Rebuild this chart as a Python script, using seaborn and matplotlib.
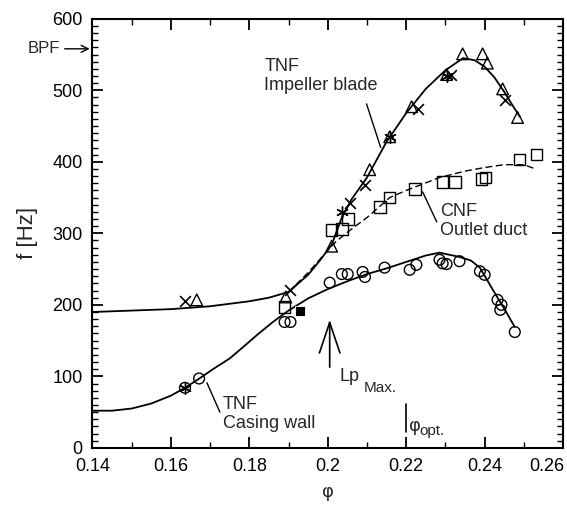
import matplotlib
matplotlib.use("Agg")
import matplotlib.pyplot as plt
import matplotlib.transforms as mtransforms
import seaborn as sns
from matplotlib.ticker import MultipleLocator

# ---------------- data ----------------
# fitted curves (knots)
imp_phi = [0.14, 0.15, 0.16, 0.17, 0.18, 0.185, 0.19, 0.195, 0.198, 0.201, 0.2036,
           0.206, 0.21, 0.215, 0.22, 0.225, 0.23, 0.2345, 0.2375, 0.24, 0.2425,
           0.245, 0.247, 0.249]
imp_f = [190, 192, 194, 198, 205, 210, 218, 242, 262, 284, 322,
         347, 378, 428, 468, 502, 528, 545, 542, 533, 518,
         498, 480, 463]

cnf_phi = [0.19, 0.195, 0.199, 0.202, 0.2056, 0.21, 0.2125, 0.2158, 0.22, 0.2285,
           0.235, 0.24, 0.245, 0.25, 0.253]
cnf_f = [218, 245, 270, 288, 304, 322, 334, 350, 360, 378,
         387, 392, 396, 396, 390]

cas_phi = [0.14, 0.145, 0.15, 0.155, 0.16, 0.1636, 0.167, 0.171, 0.175, 0.178,
           0.182, 0.186, 0.19, 0.195, 0.20, 0.205, 0.21, 0.215, 0.22, 0.225, 0.2285,
           0.2336, 0.2365, 0.2388, 0.242, 0.2456, 0.2477]
cas_f = [52, 52, 55, 62, 73, 84, 96, 111, 125, 139,
         158, 176, 192, 209, 222, 233, 243, 251, 260, 269, 273,
         267, 262, 252, 222, 189, 169]

# measured points
tri_phi = [0.1666, 0.1893, 0.201, 0.2107, 0.2158, 0.2214, 0.2303, 0.2344, 0.2395,
           0.2407, 0.2446, 0.2484]
tri_f = [207, 211, 282, 389, 435, 477, 522, 551, 551, 538, 502, 462]

x_phi = [0.1636, 0.1903, 0.2056, 0.2095, 0.2229, 0.2315, 0.2451]
x_f = [206, 221, 343, 368, 474, 521, 487]

star_phi = [0.1636, 0.2036, 0.2158, 0.2305]
star_f = [84, 330, 435, 520]

sq_phi = [0.1890, 0.2010, 0.2036, 0.2051, 0.2133, 0.2158, 0.2222, 0.2293, 0.2324,
          0.2392, 0.2402, 0.2489, 0.2532]
sq_f = [197, 305, 306, 320, 337, 350, 362, 372, 372, 376, 378, 403, 410]

sqf_phi = [0.1929]
sqf_f = [192]

circ_phi = [0.1672, 0.1636, 0.1890, 0.1905, 0.2005, 0.2036, 0.2051, 0.2089, 0.2095,
            0.2145, 0.2209, 0.2226, 0.2285, 0.2293, 0.2303, 0.2336, 0.2388, 0.2400,
            0.2433, 0.2443, 0.2440, 0.2477]
circ_f = [97, 84, 176, 176, 231, 243, 243, 246, 239,
          252, 249, 256, 263, 258, 257, 261, 247, 242,
          207, 200, 193, 162]

x_ticks = [0.14, 0.16, 0.18, 0.20, 0.22, 0.24, 0.26]
x_labels = ["0.14", "0.16", "0.18", "0.2", "0.22", "0.24", "0.26"]
y_ticks = [0, 100, 200, 300, 400, 500, 600]
y_labels = ["0", "100", "200", "300", "400", "500", "600"]
bpf_f = 558

# ---------------- style ----------------
sns.set_theme(style="ticks")
plt.rcParams["font.family"] = ["Liberation Sans", "DejaVu Sans"]
plt.rcParams["axes.linewidth"] = 1.5

fig = plt.figure(figsize=(5.67, 5.22), dpi=100)
ax = fig.add_axes([0.163, 0.142, 0.830, 0.822])

lw = 1.3
sns.lineplot(x=imp_phi, y=imp_f, color="black", lw=lw, ax=ax, sort=False)
sns.lineplot(x=cnf_phi, y=cnf_f, color="black", lw=1.0, ax=ax, sort=False,
             linestyle=(0, (5, 2.5)))
sns.lineplot(x=cas_phi, y=cas_f, color="black", lw=lw, ax=ax, sort=False)

mk = dict(facecolor="none", edgecolor="black", linewidth=1.0, ax=ax, zorder=3)
sns.scatterplot(x=tri_phi, y=tri_f, marker="^", s=70, **mk)
sns.scatterplot(x=sq_phi, y=sq_f, marker="s", s=70, **mk)
sns.scatterplot(x=circ_phi, y=circ_f, marker="o", s=60, **mk)
sns.scatterplot(x=sqf_phi, y=sqf_f, marker="s", s=60, color="black", ax=ax, zorder=3)
sns.scatterplot(x=x_phi, y=x_f, marker="x", s=60, color="black", linewidth=1.2,
                ax=ax, zorder=3)
sns.scatterplot(x=star_phi, y=star_f, marker=(6, 2, 0), s=70, color="black",
                linewidth=1.0, ax=ax, zorder=3)

ax.set_xlim(0.14, 0.26)
ax.set_ylim(0, 600)
ax.set_xticks(x_ticks)
ax.set_xticklabels(x_labels)
ax.set_yticks(y_ticks)
ax.set_yticklabels(y_labels)
ax.xaxis.set_minor_locator(MultipleLocator(0.01))
ax.yaxis.set_minor_locator(MultipleLocator(10))
ax.tick_params(which="both", direction="in", top=True, right=True,
               labelsize=13, pad=7, color="black", labelcolor="black")
ax.tick_params(which="major", length=8, width=1.3)
ax.tick_params(which="minor", length=4, width=1.0)
for s in ax.spines.values():
    s.set_color("black")
    s.set_visible(True)

# the last x tick label sits at the right edge of the figure: nudge it inward
last = ax.get_xticklabels()[-1]
last.set_transform(last.get_transform() +
                   mtransforms.ScaledTranslation(-12 / 72, 0, fig.dpi_scale_trans))

ax.set_xlabel("φ", fontsize=13, labelpad=6, family=["DejaVu Sans"])
ax.set_ylabel("f [Hz]", fontsize=16, labelpad=10)

tfs = 13
ax.text(0.1838, 545, "TNF\nImpeller blade", fontsize=tfs, ha="left", va="top",
        linespacing=1.15)
ax.plot([0.2099, 0.2135], [481, 420], color="black", lw=1.0)

ax.text(0.2286, 342, "CNF\nOutlet duct", fontsize=tfs, ha="left", va="top",
        linespacing=1.15)
ax.plot([0.2242, 0.2278], [358, 316], color="black", lw=1.0)

ax.text(0.1733, 73, "TNF\nCasing wall", fontsize=tfs, ha="left", va="top",
        linespacing=1.15)
ax.plot([0.1692, 0.1725], [91, 50], color="black", lw=1.0)

# Lp max arrow
ax.annotate("", xy=(0.2005, 183), xytext=(0.2005, 109),
            arrowprops=dict(arrowstyle="->,head_length=1.1,head_width=0.37",
                            color="black", lw=1.2, mutation_scale=20))
ax.text(0.2031, 100, "Lp", fontsize=tfs, ha="left", va="center")
ax.text(0.2093, 84, "Max.", fontsize=11, ha="left", va="center")

# phi optimum marker
ax.plot([0.2199, 0.2199], [61, 22], color="black", lw=1.2)
ax.text(0.2207, 31, "φ", fontsize=13, ha="left", va="center", family=["DejaVu Sans"])
ax.text(0.2233, 24, "opt.", fontsize=11, ha="left", va="center")

# BPF arrow
ax.annotate("", xy=(0.14, bpf_f), xytext=(-22, 0), textcoords="offset points",
            arrowprops=dict(arrowstyle="->,head_length=0.5,head_width=0.25",
                            color="black", lw=1.0, mutation_scale=10),
            annotation_clip=False)
ax.annotate("BPF", xy=(0.14, bpf_f), xytext=(-23, 0), textcoords="offset points",
            ha="right", va="center", fontsize=12, annotation_clip=False)

fig.savefig("out.png", dpi=100, facecolor="white")
